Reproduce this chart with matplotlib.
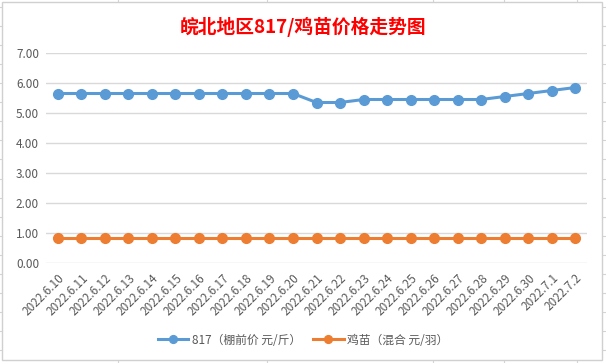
import matplotlib
matplotlib.use("Agg")
import matplotlib.pyplot as plt
from matplotlib.lines import Line2D
from matplotlib.patches import Rectangle

plt.rcParams['font.family'] = ['Noto Sans CJK SC', 'DejaVu Sans']

dates = ["2022.6.10", "2022.6.11", "2022.6.12", "2022.6.13", "2022.6.14", "2022.6.15",
         "2022.6.16", "2022.6.17", "2022.6.18", "2022.6.19", "2022.6.20", "2022.6.21",
         "2022.6.22", "2022.6.23", "2022.6.24", "2022.6.25", "2022.6.26", "2022.6.27",
         "2022.6.28", "2022.6.29", "2022.6.30", "2022.7.1", "2022.7.2"]
price_817 = [5.65, 5.65, 5.65, 5.65, 5.65, 5.65, 5.65, 5.65, 5.65, 5.65, 5.65, 5.35,
             5.35, 5.45, 5.45, 5.45, 5.45, 5.45, 5.45, 5.55, 5.65, 5.75, 5.85]
price_chick = [0.85] * 23
yticks = [0, 1, 2, 3, 4, 5, 6, 7]

W, H = 606, 363
fig = plt.figure(figsize=(W / 100, H / 100), dpi=100)

# spreadsheet cell lines behind the chart
for x in [118, 267, 433, 504, 577]:
    fig.add_artist(Line2D([x / W, x / W], [0, 1], color="#D4D4D4", lw=0.8, zorder=-3))
for k in range(20):
    y = 7 + 19.06 * k
    fig.add_artist(Line2D([0, 1], [1 - y / H, 1 - y / H], color="#D4D4D4", lw=0.8, zorder=-3))
fig.add_artist(Rectangle((2 / W, 1 - 360 / H), 600 / W, 358 / H, facecolor="white",
                         edgecolor="#D0D0D0", lw=1.0, zorder=-2))

ax = fig.add_axes([46 / W, 100 / H, 541 / W, 210 / H])
ax.set_facecolor("none")
x = list(range(len(dates)))
ax.plot(x, price_817, color="#5B9BD5", lw=2.2, marker="o", ms=7,
        label="817（棚前价 元/斤）", zorder=3)
ax.plot(x, price_chick, color="#ED7D31", lw=2.2, marker="o", ms=7,
        label="鸡苗（混合 元/羽）", zorder=3)

ax.set_xlim(-0.5, len(dates) - 0.5)
ax.set_ylim(0, 7)
ax.set_yticks(yticks)
ax.set_yticklabels([f"{v:.2f}" for v in yticks], fontsize=8.5, color="#595959")
ax.set_xticks(x)
ax.set_xticklabels(dates, rotation=45, ha="right", rotation_mode="anchor",
                   fontsize=8.5, color="#595959")
ax.tick_params(length=0, pad=5)
ax.tick_params(axis="x", pad=6)
ax.grid(axis="y", color="#D9D9D9", lw=1)
ax.set_axisbelow(True)
for s in ax.spines.values():
    s.set_visible(False)

fig.text(0.5, 1 - 27 / H, "皖北地区817/鸡苗价格走势图", color="#FF0000",
         fontsize=13.5, fontweight="bold", ha="center", va="center")

fig.legend(loc="center", bbox_to_anchor=(0.5, 1 - 340 / H), ncol=2, frameon=False,
           fontsize=8.5, labelcolor="#595959", handlelength=2.6, columnspacing=1.0,
           handletextpad=0.3, markerscale=0.8)

fig.savefig("out.png", dpi=100)
